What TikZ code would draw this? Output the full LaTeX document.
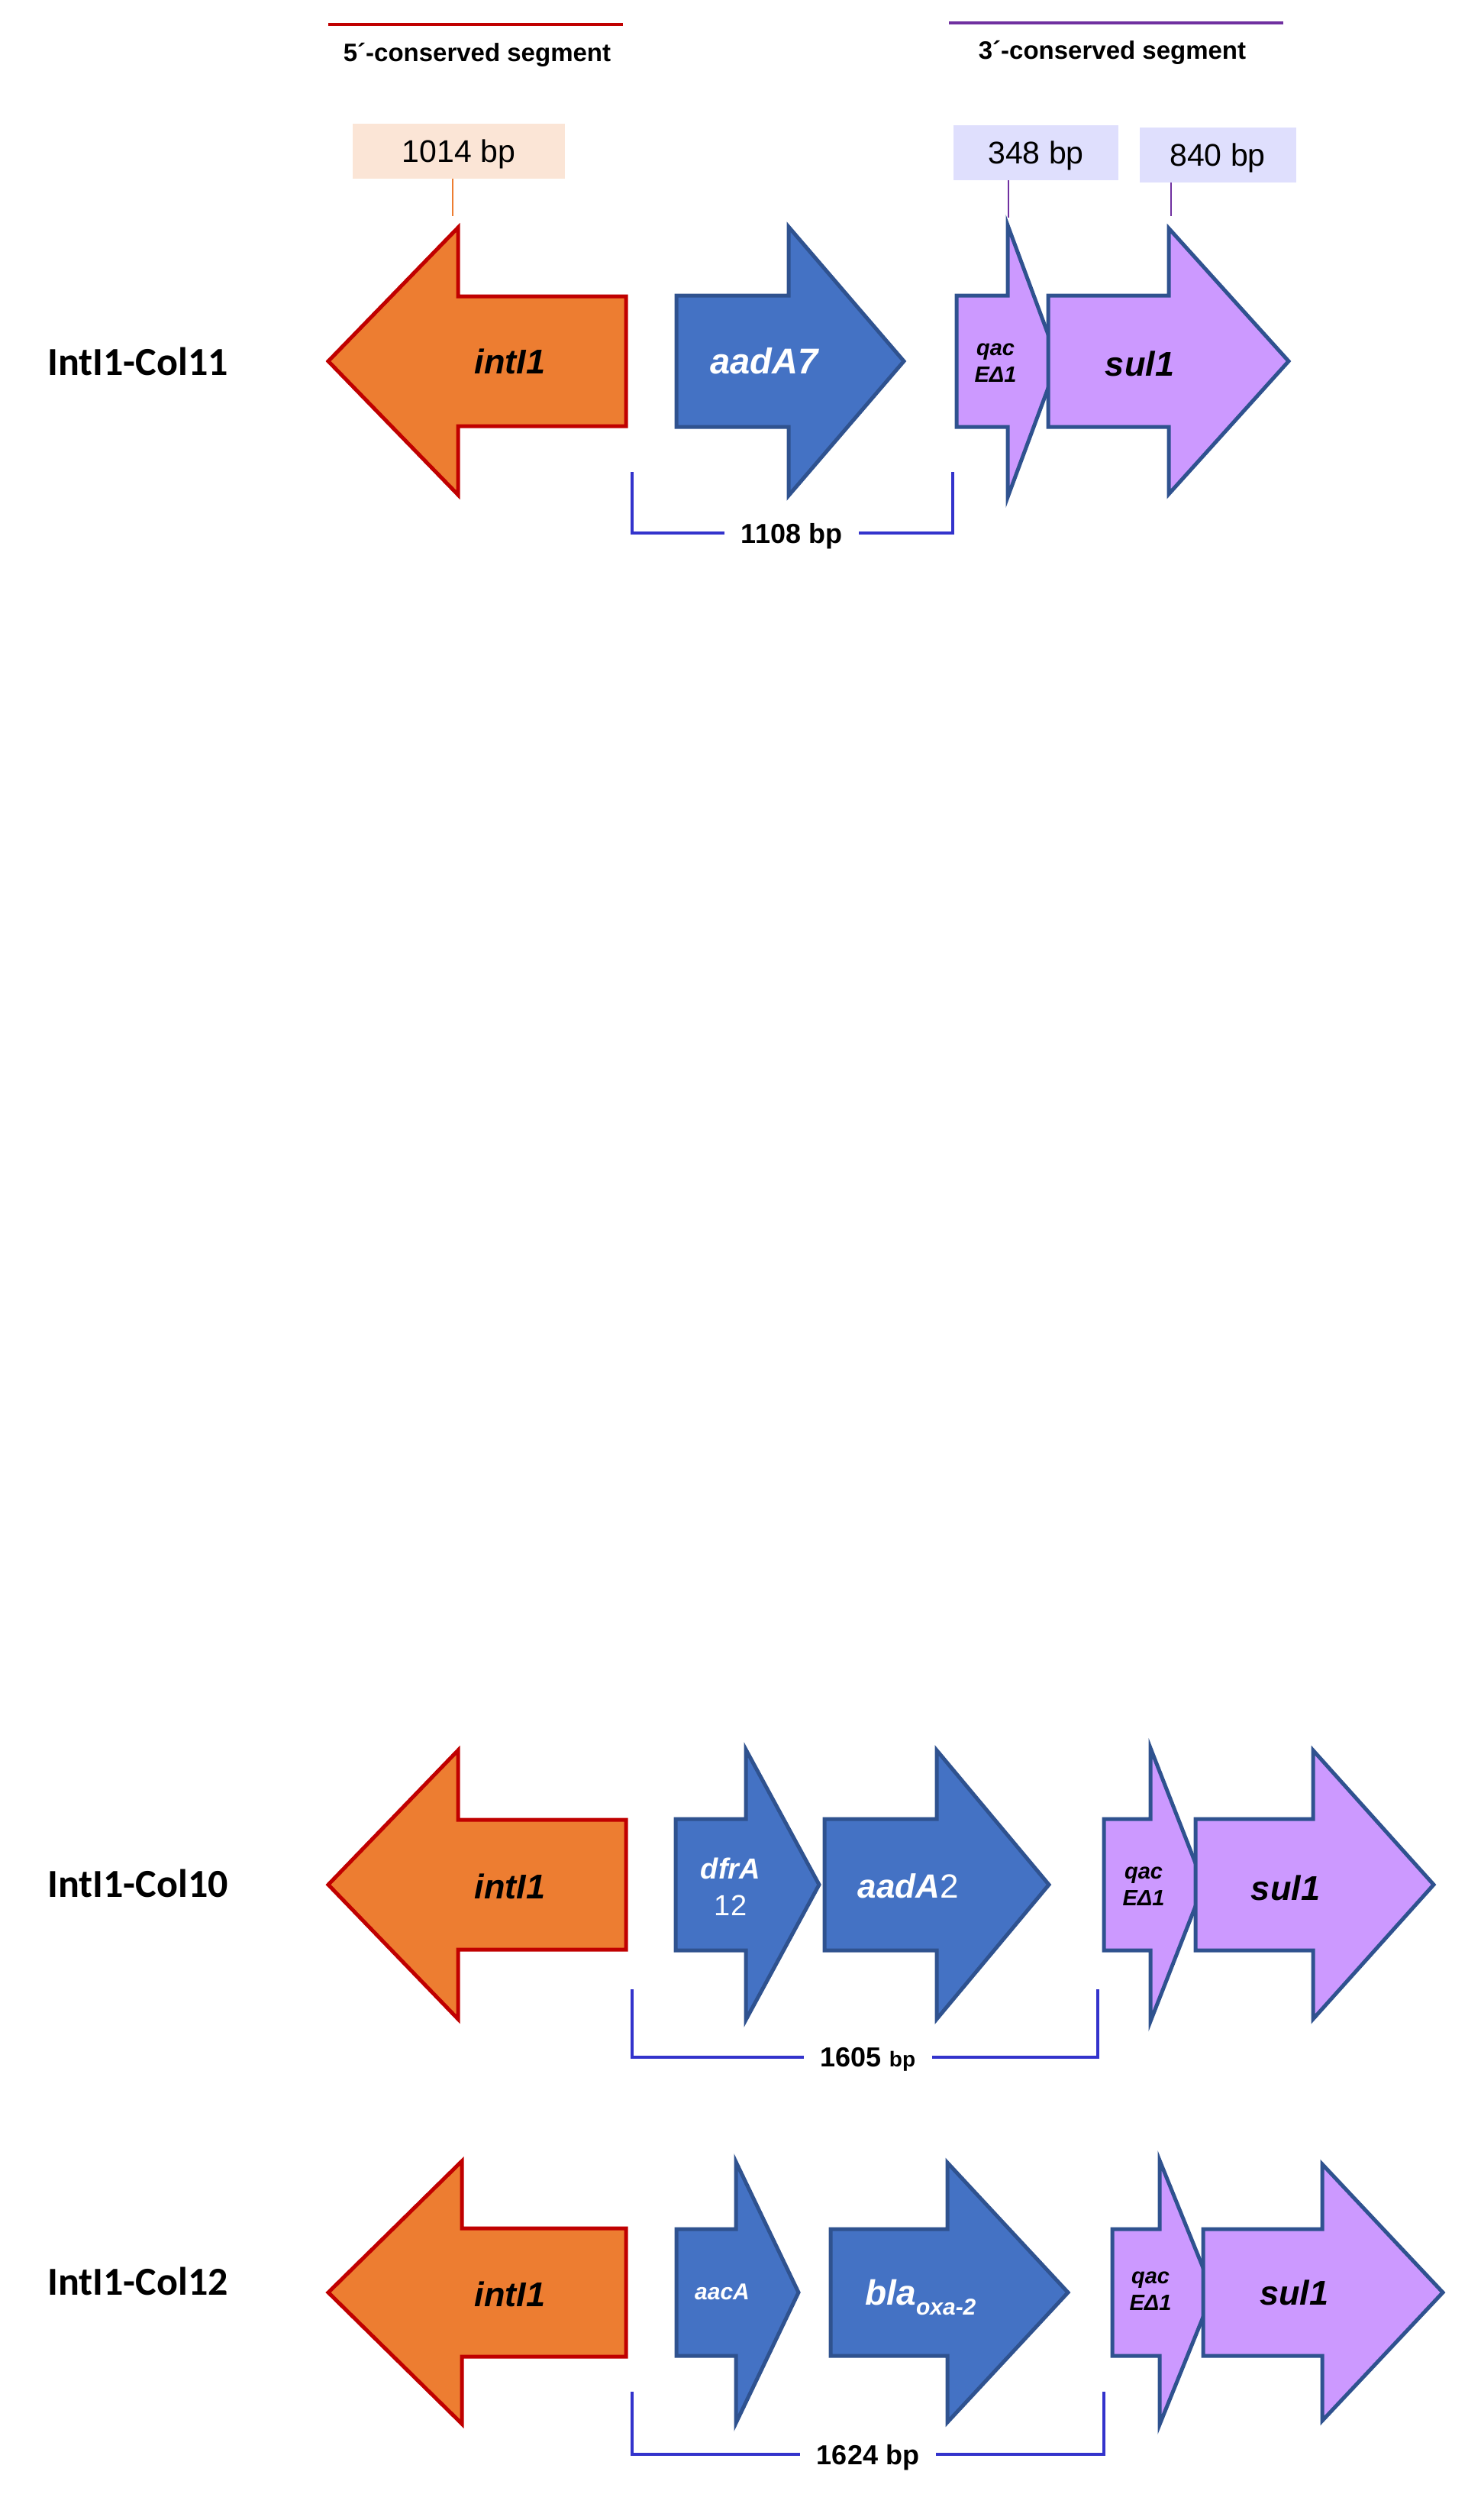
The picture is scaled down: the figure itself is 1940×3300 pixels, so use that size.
\documentclass[tikz,border=0pt]{standalone}
\usepackage{fontspec}
\setmainfont{Liberation Sans}
\newfontfamily\calfont{Carlito}
\usetikzlibrary{positioning}

\definecolor{intfill}{HTML}{ED7D31}
\definecolor{intline}{HTML}{C00000}
\definecolor{cassfill}{HTML}{4472C4}
\definecolor{geneline}{HTML}{2F528F}
\definecolor{consfill}{HTML}{CC99FF}
\definecolor{bracketcol}{HTML}{3333CC}
\definecolor{segpurple}{HTML}{7030A0}
\definecolor{boxpeach}{HTML}{FBE5D6}
\definecolor{boxlav}{HTML}{DFDFFD}

\begin{document}
\begin{tikzpicture}[x=1pt,y=-1pt]
    \newcommand{\fs}[2]{\fontsize{#1}{#2}\selectfont}
    % gene arrow: style, back end, head base, tip, centre, shaft half, head half
    \newcommand{\genearrow}[7]{
        \filldraw[#1] (#2,#5-#6) -- (#3,#5-#6) -- (#3,#5-#7) -- (#4,#5)
            -- (#3,#5+#7) -- (#3,#5+#6) -- (#2,#5+#6) -- cycle;
    }
    \newcommand{\rowa}{473}
    \newcommand{\rowb}{2468}
    \newcommand{\rowc}{3002}

    % set the styles
    \tikzset{
        intgene/.style={fill=intfill, draw=intline, line width=5pt},
        cassgene/.style={fill=cassfill, draw=geneline, line width=5pt},
        consgene/.style={fill=consfill, draw=geneline, line width=5pt},
        genename/.style={font={\fs{#1}{#1}\bfseries\itshape}, inner sep=0pt},
        cassname/.style={genename=#1, text=white},
        qaclabel/.style={font={\fs{29}{35}\bfseries\itshape}, align=center, inner sep=0pt},
        rowlabel/.style={font={\calfont\fs{52}{52}\bfseries}, anchor=west, inner sep=0pt},
        segtitle/.style={font={\fs{33}{33}\bfseries}, inner sep=0pt, text depth=0pt},
        bpbox/.style={font={\fs{41}{41}}, inner sep=0pt, minimum height=72pt, text depth=0pt},
        bracket/.style={draw=bracketcol, line width=3.5pt},
        bplabel/.style={font={\fs{36}{36}\bfseries}, inner xsep=22pt, inner ysep=0pt, text depth=0pt}
    }

    \useasboundingbox (0,0) rectangle (1940,3300);

    % conserved segments
    \coordinate (r5a) at (430,32);
    \coordinate (r5b) at (816,32);
    \draw[draw=intline, line width=4pt] (r5a) -- (r5b);
    \node[segtitle] (t5) at (625,68) {5´-conserved segment};
    \coordinate (r3a) at (1243,30);
    \coordinate (r3b) at (1681,30);
    \draw[draw=segpurple, line width=4pt] (r3a) -- (r3b);
    \node[segtitle] (t3) at (1457,65) {3´-conserved segment};

    % sizes
    \node[bpbox, fill=boxpeach, minimum width=278pt] (b1014) at (601,198) {1014 bp};
    \node[bpbox, fill=boxlav, minimum width=216pt] (b348) at (1357,200) {348 bp};
    \node[bpbox, fill=boxlav, minimum width=205pt] (b840) at (1595,203) {840 bp};
    \coordinate (c1014) at (593,283);
    \coordinate (c348) at (1321,285);
    \coordinate (c840) at (1534,283);
    \draw[draw=intfill, line width=1.5pt] (b1014.south -| c1014) -- (c1014);
    \draw[draw=segpurple, line width=1.5pt] (b348.south -| c348) -- (c348);
    \draw[draw=segpurple, line width=1.5pt] (b840.south -| c840) -- (c840);

    % IntI1-Col11
    \node[rowlabel] (col11) at (62,\rowa) {IntI1-Col11};
    \genearrow{intgene}{820}{600}{430}{\rowa}{85}{175}
    \genearrow{cassgene}{886}{1033}{1184}{\rowa}{86}{176}
    \genearrow{consgene}{1253}{1320}{1386}{\rowa}{86}{178}
    \genearrow{consgene}{1373}{1531}{1688}{\rowa}{86}{174}
    \node[genename=45] (int11) at (668,\rowa) {intI1};
    \node[cassname=47] (aad7) at (1001,\rowa) {aadA7};
    \node[qaclabel] (qac11) at (1304,475) {qac\\EΔ1};
    \node[genename=45] (sul11) at (1493,476) {sul1};
    % bracket
    \coordinate (k11l) at (828,618);
    \coordinate (k11r) at (1248,618);
    \node[bplabel] (len11) at (1037,698) {1108 bp};
    \draw[bracket] (k11l) |- (len11.west);
    \draw[bracket] (len11.east) -| (k11r);

    % IntI1-Col10
    \node[rowlabel] (col10) at (62,2466) {IntI1-Col10};
    \genearrow{intgene}{820}{600}{430}{\rowb}{85}{176}
    \genearrow{cassgene}{885}{977}{1073}{\rowb}{86}{177}
    \genearrow{cassgene}{1080}{1227}{1374}{\rowb}{86}{176}
    \genearrow{consgene}{1446}{1507}{1577}{\rowb}{86}{179}
    \genearrow{consgene}{1566}{1720}{1878}{\rowb}{86}{176}
    \node[genename=45] (int10) at (668,2470) {intI1};
    \node[cassname=38, align=center, font={\fs{38}{48}}] (dfr) at (957,2471) {{\bfseries\itshape dfrA}\\12};
    \node[cassname=44] (aad2) at (1190,2470) {aadA\upshape\mdseries 2};
    \node[qaclabel] (qac10) at (1498,2470) {qac\\EΔ1};
    \node[genename=45] (sul10) at (1684,2472) {sul1};
    % bracket
    \coordinate (k10l) at (828,2605);
    \coordinate (k10r) at (1438,2605);
    \node[bplabel] (len10) at (1137,2694) {1605 {\fs{28}{28}bp}};
    \draw[bracket] (k10l) |- (len10.west);
    \draw[bracket] (len10.east) -| (k10r);

    % IntI1-Col12
    \node[rowlabel] (col12) at (62,2987) {IntI1-Col12};
    \genearrow{intgene}{820}{605}{430}{\rowc}{84}{172}
    \genearrow{cassgene}{886}{964}{1046}{\rowc}{83}{171}
    \genearrow{cassgene}{1088}{1241}{1399}{\rowc}{83}{170}
    \genearrow{consgene}{1457}{1519}{1589}{\rowc}{83}{173}
    \genearrow{consgene}{1576}{1732}{1890}{\rowc}{83}{168}
    \node[genename=45] (int12) at (668,3004) {intI1};
    \node[cassname=30] (aac) at (946,3001) {aacA};
    \node[cassname=46] (bla) at (1206,3008) {bla\raisebox{-13pt}{\fs{30}{30}oxa-2}};
    \node[qaclabel] (qac12) at (1507,3000) {qac\\EΔ1};
    \node[genename=45] (sul12) at (1695,3002) {sul1};
    % bracket
    \coordinate (k12l) at (828,3132);
    \coordinate (k12r) at (1446,3132);
    \node[bplabel] (len12) at (1137,3214) {1624 bp};
    \draw[bracket] (k12l) |- (len12.west);
    \draw[bracket] (len12.east) -| (k12r);
\end{tikzpicture}
\end{document}
